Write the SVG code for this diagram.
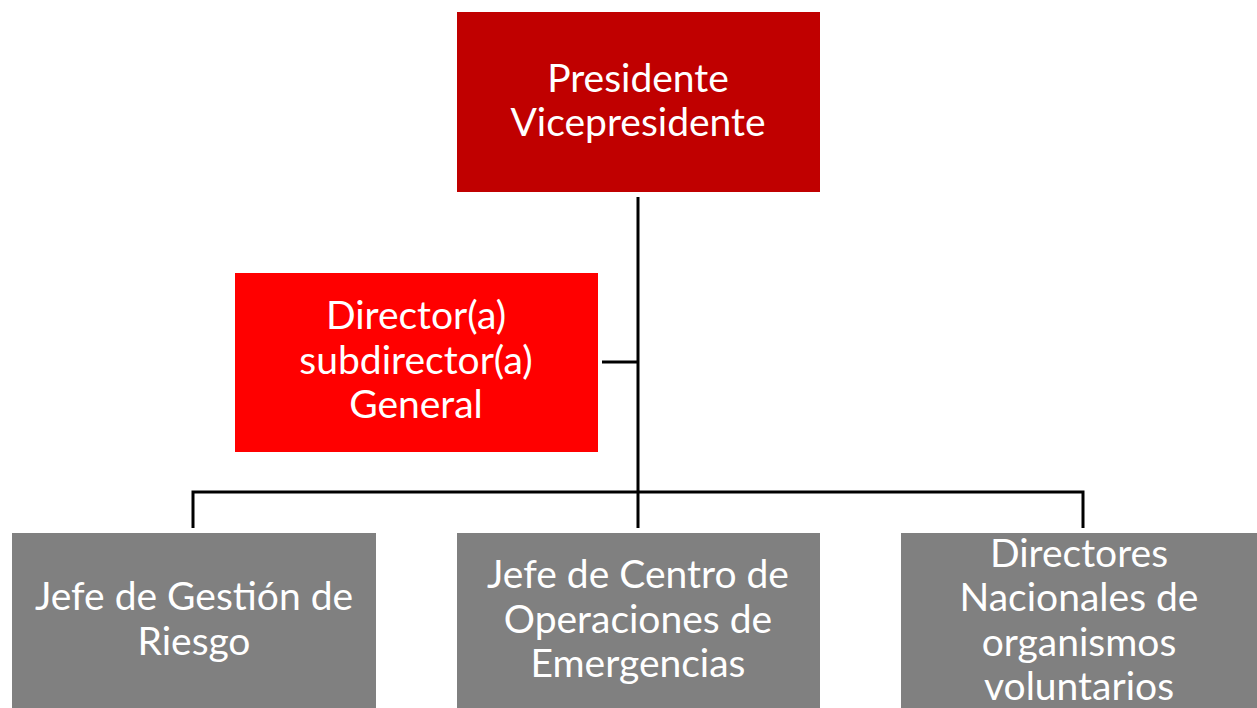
<svg xmlns="http://www.w3.org/2000/svg" width="1257" height="708" viewBox="0 0 1257 708">
<style>
.t{font-family:Lato,"Open Sans",sans-serif;font-size:39px;fill:#fff;text-anchor:middle}
.c{stroke:#000;stroke-width:3;fill:none}
</style>
<rect width="1257" height="708" fill="#fff"/>
<g id="connectors">
<path class="c" d="M638 197V528M602 362H638M193 528V492H1083V528"/>
</g>
<g id="presidente">
<rect x="457" y="12" width="363" height="180" fill="#C00000"/>
<text class="t" x="638" y="92">Presidente</text>
<text class="t" x="638" y="136">Vicepresidente</text>
</g>
<g id="director">
<rect x="235" y="273" width="363" height="179" fill="#FF0000"/>
<text class="t" x="416" y="329">Director(a)</text>
<text class="t" x="416" y="374">subdirector(a)</text>
<text class="t" x="416" y="418">General</text>
</g>
<g id="gestion">
<rect x="12" y="533" width="364" height="180" fill="#808080"/>
<text class="t" x="194" y="610">Jefe de Gestión de</text>
<text class="t" x="194" y="655">Riesgo</text>
</g>
<g id="centro">
<rect x="457" y="533" width="363" height="180" fill="#808080"/>
<text class="t" x="638" y="588">Jefe de Centro de</text>
<text class="t" x="638" y="633">Operaciones de</text>
<text class="t" x="638" y="677">Emergencias</text>
</g>
<g id="directores">
<rect x="901" y="533" width="356" height="180" fill="#808080"/>
<text class="t" x="1079" y="567">Directores</text>
<text class="t" x="1079" y="611">Nacionales de</text>
<text class="t" x="1079" y="656">organismos</text>
<text class="t" x="1079" y="700">voluntarios</text>
</g>
</svg>
